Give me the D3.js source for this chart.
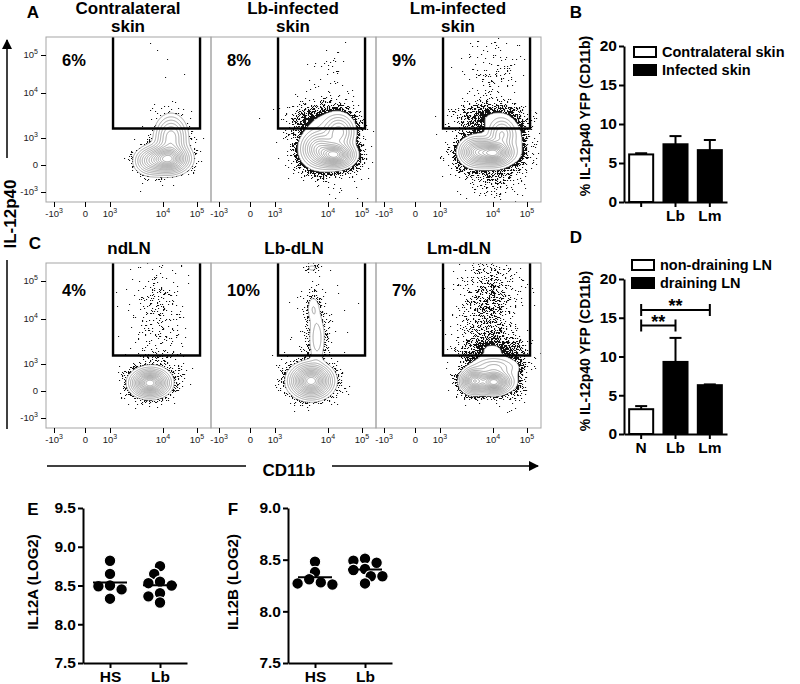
<!DOCTYPE html>
<html><head><meta charset="utf-8">
<script src="https://cdn.jsdelivr.net/npm/d3@7"></script>
<style>
body{margin:0;background:#fff}
svg text{font-family:"Liberation Sans",Arial,Helvetica,sans-serif;font-weight:bold;fill:#000}
</style>
</head><body>
<svg id="c" width="800" height="684"></svg>
<script>
// ================= DATA =================
// Flow panels
const topTitles = [["Contralateral","skin"],["Lb-infected","skin"],["Lm-infected","skin"]];
const botTitles = ["ndLN","Lb-dLN","Lm-dLN"];
const topPct = ["6%","8%","9%"];
const botPct = ["4%","10%","7%"];
const flowTickLabels = ["-10^3","0","10^3","10^4","10^5"];
const flowTickValues = [-1000,0,1000,10000,100000];
const flowTickChX = [50,245,397,726,937];   // display channel of each tick (x, CD11b)
const flowTickChY = [62,230,397,676,912];   // display channel of each tick (y, IL-12p40)
const gateChX = [416,956];
const gateChYTop = [456,1024];
const gateChYBot = [450,1024];
// population components [centre x, centre y, spread x, spread y, weight] in display channels
const popA1 = [[757,267,62,43,1],[776,403,50,68,0.35],[645,254,50,43,0.3],[745,292,99,93,0.006],[732,807,62,155,0.0008]];
const popA2 = [[770,292,56,37,1],[670,329,56,56,0.5],[794,434,50,56,0.35],[683,496,99,62,0.03],[732,329,100,95,0.025],[732,745,74,155,0.0012]];
const popA3 = [[732,304,56,37,1],[621,310,50,43,0.6],[782,422,43,50,0.3],[714,527,112,50,0.028],[887,372,31,87,0.028],[714,329,105,92,0.03],[732,155,93,74,0.006],[714,776,93,155,0.0025]];
const popC1 = [[645,279,56,40,1],[683,360,87,62,0.014],[701,683,81,174,0.008]];
const popC2 = [[621,292,62,50,1],[658,559,31,99,0.08],[633,745,25,50,0.05],[627,993,25,16,0.04],[652,652,93,217,0.002]];
const popC3 = [[732,285,50,34,1],[608,292,40,37,0.8],[732,379,74,31,0.15],[726,478,99,56,0.03],[695,745,93,186,0.012],[869,310,31,74,0.02]];
const outlierTop = [0.18,1.0,1.0];
const outlierBot = [0.5,0.4,0.9];
const contourLevels = [0.03,0.06,0.1,0.15,0.21,0.28,0.35,0.43,0.51,0.59,0.67,0.75,0.83,0.91];

// Bar chart B
const catsB = ["Contralateral","Lb","Lm"];
const tickLabB = ["","Lb","Lm"];
const valsB = [6.1,7.4,6.65];
const errB = [0.15,1.05,1.3];
const groupB = ["Contralateral skin","Infected skin","Infected skin"];
const legendB = ["Contralateral skin","Infected skin"];
// Bar chart D
const catsD = ["N","Lb","Lm"];
const tickLabD = ["N","Lb","Lm"];
const valsD = [3.2,9.3,6.3];
const errD = [0.4,3.1,0.1];
const groupD = ["non-draining LN","draining LN","draining LN"];
const legendD = ["non-draining LN","draining LN"];
const sigD = [["N","Lb","**",14],["N","Lm","**",16]];
const barTicks = [0,5,10,15,20];
// Scatter E / F
const groupsEF = ["HS","Lb"];
const eHS = [8.82,8.65,8.50,8.49,8.45,8.33];
const eLb = [8.75,8.65,8.55,8.53,8.50,8.40,8.36,8.28];
const fHS = [8.48,8.38,8.31,8.28,8.27,8.26];
const fLb = [8.51,8.49,8.47,8.41,8.40,8.34,8.34,8.27];
const ticksE = [7.5,8.0,8.5,9.0,9.5];
const ticksF = [7.5,8.0,8.5,9.0];

// ================= DRAW =================
const svg = d3.select("#c");

function hash(i,j,s){const h=Math.sin(i*127.1+j*311.7+s*74.7)*43758.5453;return h-Math.floor(h);}

function minorCh(ch){
  const out=[];
  const k=Math.asinh(1000/150);
  [10,20,30,40,50,60,70,80,90,100,200,300,400,500,600,700,800,900].forEach(v=>{
    const f=Math.asinh(v/150)/k;
    out.push(ch[1]+(ch[2]-ch[1])*f);
    out.push(ch[1]-(ch[1]-ch[0])*f);
  });
  [2,3,4,5,6,7,8,9].forEach(m=>{
    out.push(ch[2]+(ch[3]-ch[2])*Math.log10(m));
    out.push(ch[3]+(ch[4]-ch[3])*Math.log10(m));
  });
  out.push(ch[4]+(ch[4]-ch[3])*Math.log10(2));
  return out.filter(c=>c>=0&&c<=1024);
}

function supText(sel,label){
  const parts=label.split("^");
  sel.append("tspan").text(parts[0]);
  if(parts[1]) sel.append("tspan").attr("dy",-4).attr("font-size",7).text(parts[1]);
}

function flowPanel(x0,y0,comps,outlier,gateY,seed,leftAxis){
  const PW=165,PH=165,R=2;
  const xs=d3.scaleLinear().domain([0,1024]).range([0,PW]);
  const ys=d3.scaleLinear().domain([0,1024]).range([PH,0]);
  const dens=(px,py)=>{const cx=xs.invert(px),cy=ys.invert(py);let s=0;
    for(const [mx,my,sx,sy,w] of comps){const dx=(cx-mx)/sx,dy=(cy-my)/sy;s+=w*Math.exp(-0.5*(dx*dx+dy*dy));}return s;};
  const n=PW*R,m=PH*R;
  const vals=new Float64Array(n*m);let mx=0;
  for(let j=0;j<m;j++)for(let i=0;i<n;i++){const v=dens((i+0.5)/R,(j+0.5)/R);vals[j*n+i]=v;if(v>mx)mx=v;}
  const L0=contourLevels[0]*mx;
  const g=svg.append("g").attr("transform",`translate(${x0},${y0})`);
  const cid="clip"+seed;
  g.append("clipPath").attr("id",cid).append("rect").attr("width",PW).attr("height",PH);
  const inner=g.append("g").attr("clip-path",`url(#${cid})`);
  let dp="";
  for(let j=0;j<PH;j++)for(let i=0;i<PW;i++){
    const d=dens(i+0.5,j+0.5);
    if(d<L0){const p=outlier*d/L0;if(hash(i,j,seed)<p)dp+=`M${i},${j}h1.1v1.1h-1.1z`;}
  }
  inner.append("path").attr("d",dp).attr("fill","#111");
  const cs=d3.contours().size([n,m]).thresholds(contourLevels.map(f=>f*mx))(vals);
  inner.append("g").attr("transform",`scale(${1/R})`).selectAll("path").data(cs).join("path")
    .attr("d",d3.geoPath()).attr("fill","none").attr("stroke","#8c8c8c")
    .attr("stroke-width",0.8).attr("vector-effect","non-scaling-stroke");
  // gate
  const gx1=xs(gateChX[0]),gx2=xs(gateChX[1]),gyb=ys(gateY[0]),gyt=ys(gateY[1]);
  g.append("path").attr("d",`M${gx1},${gyt}L${gx1},${gyb}L${gx2},${gyb}L${gx2},${gyt}`)
    .attr("fill","none").attr("stroke","#000").attr("stroke-width",2.4);
  g.append("rect").attr("width",PW).attr("height",PH).attr("fill","none").attr("stroke","#a5a5a5").attr("stroke-width",1);
  // bottom axis
  const ax=g.append("g").attr("transform",`translate(0,${PH})`);
  ax.call(d3.axisBottom(xs).tickValues(minorCh(flowTickChX)).tickSize(2.5).tickFormat(""));
  ax.call(d3.axisBottom(xs).tickValues(flowTickChX).tickSize(5).tickFormat(""));
  ax.selectAll(".domain").remove();
  ax.selectAll("line").attr("stroke","#000").attr("shape-rendering","crispEdges");
  flowTickChX.forEach((c,i)=>{
    const t=ax.append("text").attr("x",xs(c)).attr("y",15).attr("text-anchor","middle")
      .style("font-size","9.5px").style("font-weight","normal").style("fill","#222");
    supText(t,flowTickLabels[i]);
  });
  if(leftAxis){
    const ay=g.append("g");
    ay.call(d3.axisLeft(ys).tickValues(minorCh(flowTickChY)).tickSize(2.5).tickFormat(""));
    ay.call(d3.axisLeft(ys).tickValues(flowTickChY).tickSize(5).tickFormat(""));
    ay.selectAll(".domain").remove();
    ay.selectAll("line").attr("stroke","#000").attr("shape-rendering","crispEdges");
    flowTickChY.forEach((c,i)=>{
      const t=ay.append("text").attr("x",-8).attr("y",ys(c)+3).attr("text-anchor","end")
        .style("font-size","9.5px").style("font-weight","normal").style("fill","#222");
      supText(t,flowTickLabels[i]);
    });
  }
  return {xs,ys};
}

const panelLeft=[46,211,376];
const topY=37, botY=263;
const popsTop=[popA1,popA2,popA3], popsBot=[popC1,popC2,popC3];
popsTop.forEach((p,i)=>flowPanel(panelLeft[i],topY,p,outlierTop[i],gateChYTop,i+1,i===0));
popsBot.forEach((p,i)=>flowPanel(panelLeft[i],botY,p,outlierBot[i],gateChYBot,i+11,i===0));

// titles & percentages
topTitles.forEach((t,i)=>{
  t.forEach((line,k)=>svg.append("text").attr("x",panelLeft[i]+82).attr("y",14+k*18).attr("text-anchor","middle").style("font-size","17px").text(line));
  svg.append("text").attr("x",panelLeft[i]+16).attr("y",topY+29).style("font-size","16.5px").text(topPct[i]);
});
botTitles.forEach((t,i)=>{
  svg.append("text").attr("x",panelLeft[i]+83).attr("y",254).attr("text-anchor","middle").style("font-size","17px").text(t);
  svg.append("text").attr("x",panelLeft[i]+16).attr("y",botY+33).style("font-size","16.5px").text(botPct[i]);
});

// panel letters
[["A",33,18],["C",35,249],["B",576,18],["D",576,243],["E",33,515],["F",233,515]].forEach(([l,x,y])=>
  svg.append("text").attr("x",x).attr("y",y).attr("text-anchor","middle").style("font-size","17px").text(l));

// IL-12p40 axis label and arrows
svg.append("defs").html('<marker id="arr" viewBox="0 0 10 10" refX="9" refY="5" markerWidth="7" markerHeight="7" orient="auto"><path d="M0,0L10,5L0,10z" fill="#000"/></marker>');
svg.append("line").attr("x1",7).attr("y1",158).attr("x2",7).attr("y2",40).attr("stroke","#000").attr("stroke-width",1.5).attr("marker-end","url(#arr)");
svg.append("line").attr("x1",7).attr("y1",260).attr("x2",7).attr("y2",429).attr("stroke","#000").attr("stroke-width",1.5);
svg.append("text").attr("transform","translate(10,214) rotate(-90)").attr("text-anchor","middle").attr("dy","0.35em").style("font-size","17px").text("IL-12p40");
svg.append("line").attr("x1",47).attr("y1",466).attr("x2",246).attr("y2",466).attr("stroke","#000").attr("stroke-width",1.5);
svg.append("line").attr("x1",332).attr("y1",466).attr("x2",538).attr("y2",466).attr("stroke","#000").attr("stroke-width",1.5).attr("marker-end","url(#arr)");
svg.append("text").attr("x",289).attr("y",476).attr("text-anchor","middle").style("font-size","17px").text("CD11b");

// ---------- bar charts ----------
function styleAxis(a,fs){
  a.selectAll(".domain").attr("stroke","#000").attr("stroke-width",2);
  a.selectAll(".tick line").attr("stroke","#000").attr("stroke-width",2);
  a.selectAll("text").style("font-size",fs).style("font-weight","bold").style("font-family",'"Liberation Sans",Arial,sans-serif');
}
function barChart(cfg){
  const y=d3.scaleLinear().domain([0,20]).range(cfg.yr);
  const x=d3.scaleBand().domain(cfg.cats).range([624,727]).paddingInner(0.3).paddingOuter(0.15);
  const fill=d3.scaleOrdinal().domain(cfg.legend).range(["#fff","#000"]);
  const g=svg.append("g");
  cfg.cats.forEach((c,i)=>{
    const cx=x(c)+x.bandwidth()/2;
    g.append("line").attr("x1",cx).attr("x2",cx).attr("y1",y(cfg.vals[i])).attr("y2",y(cfg.vals[i]+cfg.err[i])).attr("stroke","#000").attr("stroke-width",2);
    g.append("line").attr("x1",cx-6).attr("x2",cx+6).attr("y1",y(cfg.vals[i]+cfg.err[i])).attr("y2",y(cfg.vals[i]+cfg.err[i])).attr("stroke","#000").attr("stroke-width",2);
    g.append("rect").attr("x",x(c)).attr("y",y(cfg.vals[i])).attr("width",x.bandwidth()).attr("height",y(0)-y(cfg.vals[i]))
      .attr("fill",fill(cfg.groups[i])).attr("stroke","#000").attr("stroke-width",2);
  });
  const ay=g.append("g").attr("transform","translate(624,0)").call(d3.axisLeft(y).tickValues(barTicks).tickSize(5).tickSizeOuter(0).tickPadding(2));
  styleAxis(ay,"15.5px");
  const axb=g.append("g").attr("transform",`translate(0,${y(0)})`).call(d3.axisBottom(x).tickSize(5).tickSizeOuter(0).tickPadding(3).tickFormat((d,i)=>cfg.tickLab[i]));
  styleAxis(axb,"15.5px");
  g.append("text").attr("transform",`translate(585,${cfg.titleY}) rotate(-90)`).attr("text-anchor","middle").attr("dy","0.35em").style("font-size","14px").text("% IL-12p40 YFP (CD11b)");
  cfg.legend.forEach((l,i)=>{
    g.append("rect").attr("x",cfg.lx).attr("y",cfg.ly+i*18-5).attr("width",22).attr("height",10).attr("fill",fill(l)).attr("stroke","#000").attr("stroke-width",2);
    g.append("text").attr("x",cfg.lx+28).attr("y",cfg.ly+i*18+5).style("font-size","14.5px").text(l);
  });
  if(cfg.sig){
    cfg.sig.forEach(([a,b,lab,v])=>{
      const x1=x(a)+x.bandwidth()/2,x2=x(b)+x.bandwidth()/2,yy=y(v);
      g.append("path").attr("d",`M${x1},${yy-6}V${yy+6}M${x1},${yy}H${x2}M${x2},${yy-6}V${yy+6}`).attr("stroke","#000").attr("stroke-width",2).attr("fill","none");
      g.append("text").attr("x",(x1+x2)/2).attr("y",yy+2).attr("text-anchor","middle").style("font-size","18px").text(lab);
    });
  }
}
barChart({yr:[202,46],cats:catsB,tickLab:tickLabB,vals:valsB,err:errB,groups:groupB,legend:legendB,titleY:116,lx:634,ly:52});
barChart({yr:[434,279],cats:catsD,tickLab:tickLabD,vals:valsD,err:errD,groups:groupD,legend:legendD,titleY:351,lx:632,ly:265,sig:sigD});

// ---------- scatter E/F ----------
function scatter(cfg){
  const y=d3.scaleLinear().domain(cfg.dom).range([663,508]);
  const x=d3.scalePoint().domain(groupsEF).range(cfg.xr).padding(0.54);
  const g=svg.append("g");
  const r=5.8;
  cfg.data.forEach((vals,gi)=>{
    const cx=x(groupsEF[gi]);
    const placed=[];
    vals.slice().sort((a,b)=>b-a).forEach(v=>{
      const py=y(v);
      for(const k of [0,-1,1,-2,2,-3,3]){
        const px=cx+k*r;
        if(placed.every(p=>Math.hypot(p[0]-px,p[1]-py)>=r*1.5)){placed.push([px,py]);break;}
      }
    });
    g.selectAll(null).data(placed).join("circle").attr("cx",d=>d[0]).attr("cy",d=>d[1]).attr("r",r)
      .attr("fill","#000").attr("stroke","#fff").attr("stroke-width",1.2);
    const mv=d3.mean(vals);
    g.append("line").attr("x1",cx-17).attr("x2",cx+17).attr("y1",y(mv)).attr("y2",y(mv)).attr("stroke","#000").attr("stroke-width",2);
  });
  const ay=g.append("g").attr("transform",`translate(${cfg.xr[0]},0)`).call(d3.axisLeft(y).tickValues(cfg.ticks).tickFormat(d3.format(".1f")).tickSize(5).tickSizeOuter(0).tickPadding(2));
  styleAxis(ay,"15.5px");
  const ax=g.append("g").attr("transform","translate(0,663)").call(d3.axisBottom(x).tickSize(5).tickSizeOuter(0).tickPadding(3));
  styleAxis(ax,"15.5px");
  g.append("text").attr("transform",`translate(${cfg.tx},582) rotate(-90)`).attr("text-anchor","middle").attr("dy","0.35em").style("font-size","15px").text(cfg.title);
}
scatter({dom:[7.5,9.5],xr:[83,187],data:[eHS,eLb],ticks:ticksE,tx:33,title:"IL12A (LOG2)"});
scatter({dom:[7.5,9.0],xr:[288,392],data:[fHS,fLb],ticks:ticksF,tx:233,title:"IL12B (LOG2)"});
</script>
</body></html>
